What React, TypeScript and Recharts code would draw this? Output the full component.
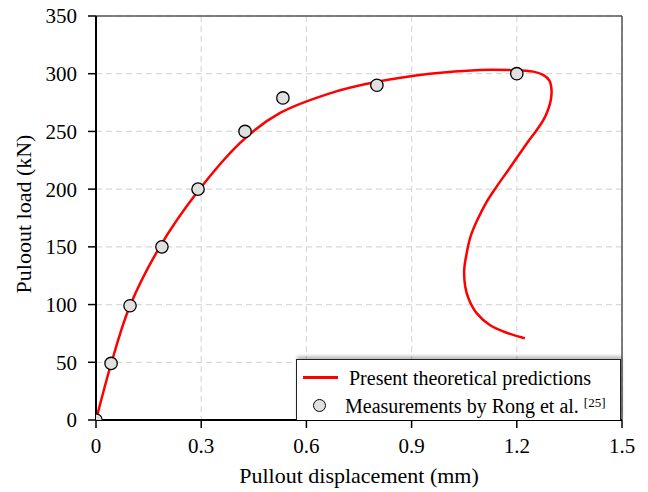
import {
  ComposedChart,
  Line,
  Scatter,
  XAxis,
  YAxis,
  CartesianGrid,
  ReferenceLine,
  Legend,
  Label,
} from "recharts";

const FONT = '"Liberation Serif", "Times New Roman", serif';

const xTicks = [0, 0.3, 0.6, 0.9, 1.2, 1.5];
const yTicks = [0, 50, 100, 150, 200, 250, 300, 350];

// measured points (Rong et al.)
const measured = [
  { x: 0, y: 0 },
  { x: 0.043, y: 49 },
  { x: 0.097, y: 99 },
  { x: 0.188, y: 150 },
  { x: 0.291, y: 200 },
  { x: 0.425, y: 250 },
  { x: 0.533, y: 279 },
  { x: 0.801, y: 290 },
  { x: 1.2, y: 300 },
];

// theoretical curve (x goes back on the descending branch)
const curveX = [
  0, 0.043, 0.097, 0.182, 0.288, 0.411, 0.525, 0.667, 0.801, 0.952, 1.095, 1.2,
  1.247, 1.275, 1.293, 1.299, 1.297, 1.289, 1.276, 1.257, 1.229, 1.202, 1.176, 1.142,
  1.114, 1.087, 1.068, 1.057, 1.05, 1.053, 1.064, 1.086, 1.123, 1.171, 1.223,
];
const curveY = [
  0, 48.5, 99, 150, 197, 240, 266, 283, 293, 300, 303.3, 303, 301.8, 299, 294, 286,
  277.3, 268.6, 260, 251.3, 239.8, 228, 216.6, 202, 189, 173, 158.8, 144.4, 130,
  115.5, 104, 92.4, 82.3, 75.6, 70.8,
];
const curve = curveX.map((x, i) => ({ x, y: curveY[i] }));

const tickStyle = { fontSize: 21, fill: "#000", fontFamily: FONT };

// local Catmull-Rom spline, the curve folds back in x so monotone types can't be used
function catmullRom(context: any) {
  let pts: number[][] = [];
  return {
    areaStart() {},
    areaEnd() {},
    lineStart() {
      pts = [];
    },
    point(x: number, y: number) {
      pts.push([+x, +y]);
    },
    lineEnd() {
      const n = pts.length;
      if (!n) return;
      context.moveTo(pts[0][0], pts[0][1]);
      for (let i = 0; i < n - 1; i++) {
        const p0 = pts[i - 1] || pts[i];
        const p1 = pts[i];
        const p2 = pts[i + 1];
        const p3 = pts[i + 2] || p2;
        context.bezierCurveTo(
          p1[0] + (p2[0] - p0[0]) / 6,
          p1[1] + (p2[1] - p0[1]) / 6,
          p2[0] - (p3[0] - p1[0]) / 6,
          p2[1] - (p3[1] - p1[1]) / 6,
          p2[0],
          p2[1]
        );
      }
    },
  };
}

function Dot(props: any) {
  const { cx, cy } = props;
  return <circle cx={cx} cy={cy} r={6.2} fill="#e0e0e0" stroke="#000" strokeWidth={1.3} />;
}

function LegendBox() {
  return (
    <div
      style={{
        width: 325,
        height: 61,
        boxSizing: "border-box",
        border: "1px solid #222",
        borderBottom: "none",
        background: "#fff",
        boxShadow: "1px -3px 3px rgba(0,0,0,0.25)",
        fontFamily: FONT,
        fontSize: 20,
        color: "#000",
        lineHeight: 1,
      }}
    >
      <div style={{ display: "flex", alignItems: "center", height: 29, marginTop: 3 }}>
        <span style={{ width: 35, height: 2.5, background: "#ff0000", marginLeft: 6, marginRight: 11 }} />
        <span>Present theoretical predictions</span>
      </div>
      <div style={{ display: "flex", alignItems: "center", height: 27 }}>
        <span
          style={{
            width: 11,
            height: 11,
            borderRadius: "50%",
            background: "#e0e0e0",
            border: "1.3px solid #000",
            marginLeft: 16,
            marginRight: 19,
          }}
        />
        <span>
          Measurements by Rong et al.{" "}
          <sup style={{ fontSize: 13, verticalAlign: "6px" }}>[25]</sup>
        </span>
      </div>
    </div>
  );
}

export default function App() {
  return (
    <div style={{ position: "absolute", left: 0, top: 0, width: 648, height: 492, background: "#fff" }}>
      <ComposedChart width={648} height={492} margin={{ top: 16, right: 26, bottom: 42, left: 0 }}>
        <CartesianGrid stroke="#d9d9d9" strokeDasharray="6 4" strokeWidth={1.2} />
        <XAxis
          type="number"
          dataKey="x"
          domain={[0, 1.5]}
          ticks={xTicks}
          height={30}
          tickFormatter={(v) => String(v)}
          tick={tickStyle}
          axisLine={{ stroke: "#000", strokeWidth: 2 }}
          tickLine={{ stroke: "#000", strokeWidth: 1.5 }}
          tickSize={8}
          tickMargin={10}
          allowDataOverflow
        >
          <Label
            content={() => (
              <text x={359} y={483} textAnchor="middle" fontFamily={FONT} fontSize={22} fill="#000">
                Pullout displacement (mm)
              </text>
            )}
          />
        </XAxis>
        <YAxis
          type="number"
          dataKey="y"
          width={96}
          domain={[0, 350]}
          ticks={yTicks}
          tick={tickStyle}
          axisLine={{ stroke: "#000", strokeWidth: 2 }}
          tickLine={{ stroke: "#000", strokeWidth: 1.5 }}
          tickSize={8}
          tickMargin={11}
          allowDataOverflow
        >
          <Label
            content={() => (
              <text
                x={31}
                y={214}
                transform="rotate(-90 31 214)"
                textAnchor="middle"
                fontFamily={FONT}
                fontSize={22}
                fill="#000"
              >
                Puloout load (kN)
              </text>
            )}
          />
        </YAxis>
        <ReferenceLine y={350} stroke="#555" strokeWidth={1.5} />
        <ReferenceLine x={1.5} stroke="#555" strokeWidth={1.5} />
        <Scatter data={measured} shape={<Dot />} isAnimationActive={false} legendType="none" />
        <Line
          data={curve}
          dataKey="y"
          type={catmullRom as any}
          stroke="#ff0000"
          strokeWidth={2.5}
          dot={false}
          activeDot={false}
          isAnimationActive={false}
          legendType="none"
        />
        <Legend
          layout="horizontal"
          verticalAlign="middle"
          align="center"
          content={() => <LegendBox />}
          wrapperStyle={{ left: 296, top: 359, width: 325, height: 61 }}
        />
      </ComposedChart>
    </div>
  );
}
